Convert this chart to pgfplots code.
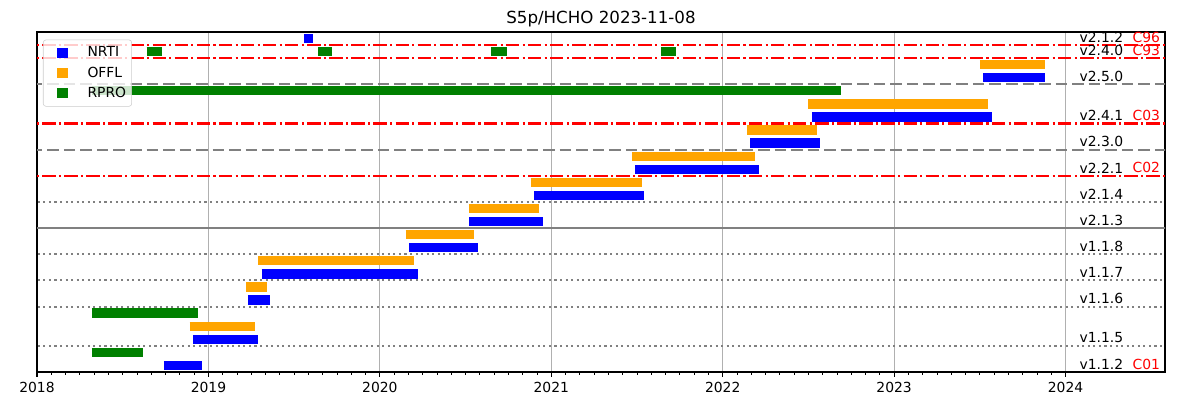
\documentclass[border=0pt]{standalone}
\usepackage{fontspec}
\setmainfont{DejaVu Sans}
\usepackage{pgfplots}
\pgfplotsset{compat=1.18}
\usepackage{pgfplotstable}
\definecolor{mplblue}{HTML}{0000FF}
\definecolor{mplorange}{HTML}{FFA500}
\definecolor{mplgreen}{HTML}{008000}
\definecolor{gridgray}{HTML}{B0B0B0}
\definecolor{legendedge}{HTML}{CCCCCC}
\definecolor{mplgray}{HTML}{808080}

% NRTI bars: start/end date, row
\pgfplotstableread{
x y
2018.74 0
2018.96 0
nan nan
2018.91 2
2019.29 2
nan nan
2019.23 5
2019.36 5
nan nan
2019.31 7
2020.22 7
nan nan
2020.17 9
2020.57 9
nan nan
2020.52 11
2020.95 11
nan nan
2020.90 13
2021.54 13
nan nan
2021.49 15
2022.21 15
nan nan
2022.16 17
2022.57 17
nan nan
2022.52 19
2023.57 19
nan nan
2023.52 22
2023.88 22
nan nan
2019.56 25
2019.61 25
}\nrti

% OFFL bars
\pgfplotstableread{
x y
2018.89 3
2019.27 3
nan nan
2019.22 6
2019.34 6
nan nan
2019.29 8
2020.20 8
nan nan
2020.15 10
2020.55 10
nan nan
2020.52 12
2020.93 12
nan nan
2020.88 14
2021.53 14
nan nan
2021.47 16
2022.19 16
nan nan
2022.14 18
2022.55 18
nan nan
2022.50 20
2023.55 20
nan nan
2023.50 23
2023.88 23
}\offl

% RPRO bars
\pgfplotstableread{
x y
2018.32 1
2018.62 1
nan nan
2018.32 4
2018.94 4
nan nan
2018.32 21
2022.69 21
nan nan
2018.64 24
2018.73 24
nan nan
2019.64 24
2019.72 24
nan nan
2020.65 24
2020.74 24
nan nan
2021.64 24
2021.73 24
}\rpro

\begin{document}
\begin{tikzpicture}
\begin{axis}[
  at={(0pt,0pt)}, anchor=south west,
  scale only axis, width=812.16pt, height=244.8pt,
  xmin=2018, xmax=2024.58, ymin=-0.5, ymax=25.5,
  xtick={2018,2019,2020,2021,2022,2023,2024},
  minor x tick num=11,
  xtick pos=left,
  ytick=\empty,
  tick align=outside,
  major tick length=3.5pt, minor tick length=2pt,
  every major tick/.style={black, line width=0.8pt},
  every minor tick/.style={black, line width=0.6pt},
  axis line style={line width=0.8pt},
  xmajorgrids,
  major grid style={gridgray, line width=0.8pt},
  /pgf/number format/assume math mode=true,
  x tick label style={/pgf/number format/1000 sep={}, font=\fontsize{10}{12}\selectfont},
  unbounded coords=jump,
  title={S5p/HCHO 2023-11-08},
  title style={font=\fontsize{12}{14}\selectfont, at={(0.5,1)}, anchor=base, yshift=0pt},
  legend cell align=left,
  legend image code/.code={\fill[#1, fill opacity=1, sharp corners] (8.25pt,-3.25pt) rectangle (14.75pt,3.25pt); \path (0pt,0pt) (27.5pt,0pt);},
  legend style={at={(0,1)}, anchor=north west, xshift=4.3pt, yshift=-5.5pt,
    draw=legendedge, fill=white, fill opacity=0.8, draw opacity=1, text opacity=1,
    rounded corners=2pt, font=\fontsize{10}{12}\selectfont,
    inner xsep=2pt, inner ysep=3pt, row sep=1.6pt,
    nodes={inner sep=2pt, text depth=1.5pt}},
]
% separator lines
\addplot[forget plot, red, line width=1.5pt, dash pattern=on 9.6pt off 2.4pt on 1.5pt off 2.4pt] coordinates {(2017,24.5) (2025,24.5)};
\addplot[forget plot, red, line width=1.5pt, dash pattern=on 9.6pt off 2.4pt on 1.5pt off 2.4pt] coordinates {(2017,23.5) (2025,23.5)};
\addplot[forget plot, red, line width=1.5pt, dash pattern=on 9.6pt off 2.4pt on 1.5pt off 2.4pt] coordinates {(2017,18.5) (2025,18.5)};
\addplot[forget plot, red, line width=1.5pt, dash pattern=on 9.6pt off 2.4pt on 1.5pt off 2.4pt] coordinates {(2017,14.5) (2025,14.5)};
\addplot[forget plot, mplgray, line width=1.5pt, dash pattern=on 8.3pt off 3.6pt] coordinates {(2017,21.5) (2025,21.5)};
\addplot[forget plot, mplgray, line width=1.5pt, dash pattern=on 8.3pt off 3.6pt] coordinates {(2017,16.5) (2025,16.5)};
\addplot[forget plot, mplgray, line width=1.5pt] coordinates {(2017,10.5) (2025,10.5)};
\addplot[forget plot, mplgray, line width=1.5pt, dash pattern=on 1.5pt off 2.5pt] coordinates {(2017,12.5) (2025,12.5)};
\addplot[forget plot, mplgray, line width=1.5pt, dash pattern=on 1.5pt off 2.5pt] coordinates {(2017,8.5) (2025,8.5)};
\addplot[forget plot, mplgray, line width=1.5pt, dash pattern=on 1.5pt off 2.5pt] coordinates {(2017,6.5) (2025,6.5)};
\addplot[forget plot, mplgray, line width=1.5pt, dash pattern=on 1.5pt off 2.5pt] coordinates {(2017,4.5) (2025,4.5)};
\addplot[forget plot, mplgray, line width=1.5pt, dash pattern=on 1.5pt off 2.5pt] coordinates {(2017,1.5) (2025,1.5)};
% bars
\addplot[forget plot, mplblue, line width=6.7pt, line cap=butt] table[x=x, y=y] {\nrti};
\addplot[forget plot, mplorange, line width=6.7pt, line cap=butt] table[x=x, y=y] {\offl};
\addplot[forget plot, mplgreen, line width=6.7pt, line cap=butt] table[x=x, y=y] {\rpro};
% legend
\addlegendimage{mplblue}
\addlegendentry{NRTI}
\addlegendimage{mplorange}
\addlegendentry{OFFL}
\addlegendimage{mplgreen}
\addlegendentry{RPRO}
% version labels
\node[anchor=west, inner sep=0pt, yshift=1pt, font=\fontsize{10}{12}\selectfont] at (axis cs:2024.08,25) {v2.1.2};
\node[anchor=west, inner sep=0pt, yshift=1pt, font=\fontsize{10}{12}\selectfont, text=red] at (axis cs:2024.39,25) {C96};
\node[anchor=west, inner sep=0pt, yshift=1pt, font=\fontsize{10}{12}\selectfont] at (axis cs:2024.08,24) {v2.4.0};
\node[anchor=west, inner sep=0pt, yshift=1pt, font=\fontsize{10}{12}\selectfont, text=red] at (axis cs:2024.39,24) {C93};
\node[anchor=west, inner sep=0pt, yshift=1pt, font=\fontsize{10}{12}\selectfont] at (axis cs:2024.08,22) {v2.5.0};
\node[anchor=west, inner sep=0pt, yshift=1pt, font=\fontsize{10}{12}\selectfont] at (axis cs:2024.08,19) {v2.4.1};
\node[anchor=west, inner sep=0pt, yshift=1pt, font=\fontsize{10}{12}\selectfont, text=red] at (axis cs:2024.39,19) {C03};
\node[anchor=west, inner sep=0pt, yshift=1pt, font=\fontsize{10}{12}\selectfont] at (axis cs:2024.08,17) {v2.3.0};
\node[anchor=west, inner sep=0pt, yshift=1pt, font=\fontsize{10}{12}\selectfont] at (axis cs:2024.08,15) {v2.2.1};
\node[anchor=west, inner sep=0pt, yshift=1pt, font=\fontsize{10}{12}\selectfont, text=red] at (axis cs:2024.39,15) {C02};
\node[anchor=west, inner sep=0pt, yshift=1pt, font=\fontsize{10}{12}\selectfont] at (axis cs:2024.08,13) {v2.1.4};
\node[anchor=west, inner sep=0pt, yshift=1pt, font=\fontsize{10}{12}\selectfont] at (axis cs:2024.08,11) {v2.1.3};
\node[anchor=west, inner sep=0pt, yshift=1pt, font=\fontsize{10}{12}\selectfont] at (axis cs:2024.08,9) {v1.1.8};
\node[anchor=west, inner sep=0pt, yshift=1pt, font=\fontsize{10}{12}\selectfont] at (axis cs:2024.08,7) {v1.1.7};
\node[anchor=west, inner sep=0pt, yshift=1pt, font=\fontsize{10}{12}\selectfont] at (axis cs:2024.08,5) {v1.1.6};
\node[anchor=west, inner sep=0pt, yshift=1pt, font=\fontsize{10}{12}\selectfont] at (axis cs:2024.08,2) {v1.1.5};
\node[anchor=west, inner sep=0pt, yshift=1pt, font=\fontsize{10}{12}\selectfont] at (axis cs:2024.08,0) {v1.1.2};
\node[anchor=west, inner sep=0pt, yshift=1pt, font=\fontsize{10}{12}\selectfont, text=red] at (axis cs:2024.39,0) {C01};
\end{axis}
\pgfresetboundingbox
\path[use as bounding box] (-26.64pt,-20.16pt) rectangle (837.36pt,267.84pt);
\end{tikzpicture}
\end{document}
